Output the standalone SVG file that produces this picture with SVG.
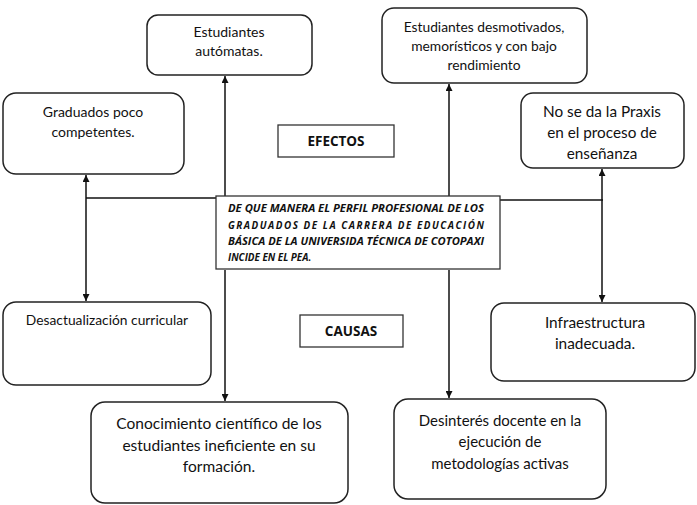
<svg xmlns="http://www.w3.org/2000/svg" width="697" height="505" viewBox="0 0 697 505">
<defs>
<style>
.box{fill:#fff;stroke:#222;stroke-width:1.5}
.t{font-family:Lato,"Open Sans","Liberation Sans",sans-serif;fill:#111;text-anchor:middle}
.c{font-family:"Open Sans","Liberation Sans",sans-serif;font-weight:bold;font-style:italic;font-size:9.9px;fill:#111}
.lbl{font-family:"Open Sans","Liberation Sans",sans-serif;font-weight:bold;font-size:13.5px;fill:#111;text-anchor:middle}
.ln{fill:none;stroke:#111;stroke-width:1.5}
</style>
<marker id="ah" viewBox="0 0 10 10" refX="10" refY="5" markerWidth="7" markerHeight="7" markerUnits="userSpaceOnUse" orient="auto-start-reverse">
<path d="M0,0 L10,5 L0,10 z" fill="#111"/>
</marker>
</defs>
<rect width="697" height="505" fill="#fff"/>
<g id="connectors">
<path class="ln" d="M86,198 H216"/>
<path class="ln" d="M500,200 H603"/>
<path class="ln" d="M86,175 V301" marker-start="url(#ah)" marker-end="url(#ah)"/>
<path class="ln" d="M225,196 V76" marker-end="url(#ah)"/>
<path class="ln" d="M225,270 V401" marker-end="url(#ah)"/>
<path class="ln" d="M449,196 V84" marker-end="url(#ah)"/>
<path class="ln" d="M449,270 V398" marker-end="url(#ah)"/>
<path class="ln" d="M602,169 V302" marker-start="url(#ah)" marker-end="url(#ah)"/>
</g>
<g id="n-automatas">
<rect class="box" x="147" y="15" width="165" height="60" rx="11"/>
<text class="t" font-size="14" x="229" y="37">Estudiantes</text>
<text class="t" font-size="14" x="229" y="56">autómatas.</text>
</g>
<g id="n-desmotivados">
<rect class="box" x="382" y="8" width="205" height="75" rx="12"/>
<text class="t" font-size="13.8" x="484" y="32">Estudiantes desmotivados,</text>
<text class="t" font-size="13.8" x="484" y="51">memorísticos y con bajo</text>
<text class="t" font-size="13.8" x="484" y="70">rendimiento</text>
</g>
<g id="n-graduados">
<rect class="box" x="3" y="93" width="181" height="81" rx="13"/>
<text class="t" font-size="14" x="93" y="117">Graduados poco</text>
<text class="t" font-size="14" x="93" y="137">competentes.</text>
</g>
<g id="n-praxis">
<rect class="box" x="521" y="93" width="163" height="75" rx="12"/>
<text class="t" font-size="15.3" x="602" y="117">No se da la Praxis</text>
<text class="t" font-size="15.3" x="602" y="138">en el proceso de</text>
<text class="t" font-size="15.3" x="602" y="159">enseñanza</text>
</g>
<g id="l-efectos">
<rect x="278" y="125" width="116" height="32" fill="#fff" stroke="#333" stroke-width="1.3"/>
<text class="lbl" x="336" y="146">EFECTOS</text>
</g>
<g id="n-central">
<rect x="216" y="196" width="284" height="73" fill="#fff" stroke="#333" stroke-width="1.3"/>
<text class="c" x="228" y="212" textLength="256" lengthAdjust="spacingAndGlyphs">DE QUE MANERA EL PERFIL PROFESIONAL DE LOS</text>
<text class="c" x="228" y="229" textLength="256" lengthAdjust="spacing">GRADUADOS DE LA CARRERA DE EDUCACIÓN</text>
<text class="c" x="228" y="245" textLength="256" lengthAdjust="spacingAndGlyphs">BÁSICA DE LA UNIVERSIDA TÉCNICA DE COTOPAXI</text>
<text class="c" x="228" y="261">INCIDE EN EL PEA.</text>
</g>
<g id="n-desactualizacion">
<rect class="box" x="3" y="302" width="208" height="83" rx="13"/>
<text class="t" font-size="13.8" x="107" y="325">Desactualización curricular</text>
</g>
<g id="l-causas">
<rect x="300" y="315" width="103" height="32" fill="#fff" stroke="#333" stroke-width="1.3"/>
<text class="lbl" x="351" y="336">CAUSAS</text>
</g>
<g id="n-infraestructura">
<rect class="box" x="491" y="303" width="204" height="78" rx="13"/>
<text class="t" font-size="15.4" x="595" y="328">Infraestructura</text>
<text class="t" font-size="15.4" x="595" y="349">inadecuada.</text>
</g>
<g id="n-conocimiento">
<rect class="box" x="91" y="402" width="257" height="101" rx="14"/>
<text class="t" font-size="15.5" x="219" y="429">Conocimiento científico de los</text>
<text class="t" font-size="15.5" x="219" y="451">estudiantes ineficiente en su</text>
<text class="t" font-size="15.5" x="219" y="472">formación.</text>
</g>
<g id="n-desinteres">
<rect class="box" x="394" y="399" width="212" height="100" rx="14"/>
<text class="t" font-size="15" x="500" y="426">Desinterés docente en la</text>
<text class="t" font-size="15" x="500" y="447">ejecución de</text>
<text class="t" font-size="15" x="500" y="469">metodologías activas</text>
</g>
</svg>
